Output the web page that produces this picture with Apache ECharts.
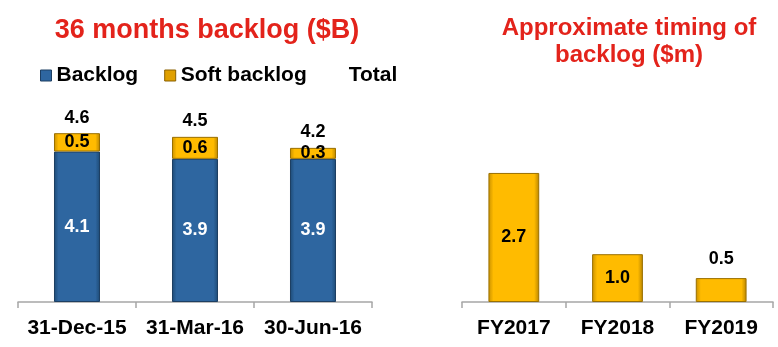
<!DOCTYPE html>
<html>
<head>
<meta charset="utf-8">
<script src="https://cdn.jsdelivr.net/npm/echarts@6/dist/echarts.min.js"></script>
<style>html,body{margin:0;padding:0;background:#fff;}#c{width:778px;height:347px;}</style>
</head>
<body>
<div id="c"></div>
<script>
const quarters = ['31-Dec-15', '31-Mar-16', '30-Jun-16'];
const backlog = [4.1, 3.9, 3.9];
const softBacklog = [0.5, 0.6, 0.3];
const totals = [4.6, 4.5, 4.2];
const years = ['FY2017', 'FY2018', 'FY2019'];
const timing = [2.7, 1.0, 0.5];

const FONT = '"Liberation Sans", Arial, sans-serif';
const blueGrad = new echarts.graphic.LinearGradient(0, 0, 1, 0, [
  {offset: 0, color: '#1d4a75'}, {offset: 0.1, color: '#2e66a0'},
  {offset: 0.9, color: '#2e66a0'}, {offset: 1, color: '#1d4a75'}]);
const yellowGrad = new echarts.graphic.LinearGradient(0, 0, 1, 0, [
  {offset: 0, color: '#c89000'}, {offset: 0.1, color: '#ffbb00'},
  {offset: 0.9, color: '#ffbb00'}, {offset: 1, color: '#b88400'}]);

const chart = echarts.init(document.getElementById('c'));
const catAxisStyle = {
  axisLine: {lineStyle: {color: '#a6a6a6', width: 1.5}},
  axisTick: {show: true, length: 6, lineStyle: {color: '#a6a6a6', width: 1.5}},
  axisLabel: {interval: 0, color: '#000', fontFamily: FONT, fontWeight: 'bold', fontSize: 21, margin: 16}
};
chart.setOption({
  animation: false,
  title: [
    {text: '36 months backlog ($B)', left: 202, top: 12, textAlign: 'center',
     textStyle: {color: '#e3231b', fontFamily: FONT, fontWeight: 'bold', fontSize: 27}},
    {text: 'Approximate timing of\nbacklog ($m)', left: 624, top: 10, textAlign: 'center',
     textStyle: {color: '#e3231b', fontFamily: FONT, fontWeight: 'bold', fontSize: 24, lineHeight: 27}}
  ],
  legend: {
    left: 35, top: 60, itemWidth: 11, itemHeight: 11, itemGap: 26,
    textStyle: {color: '#000', fontFamily: FONT, fontWeight: 'bold', fontSize: 21},
    data: [
      {name: 'Backlog', icon: 'rect', itemStyle: {color: '#2e66a0', borderColor: '#1d3f63', borderWidth: 1}},
      {name: 'Soft backlog', icon: 'rect', itemStyle: {color: '#e0a000', borderColor: '#8a6000', borderWidth: 1}},
      {name: 'Total', icon: 'rect', itemStyle: {color: 'rgba(0,0,0,0)', borderWidth: 0}}
    ]
  },
  grid: [
    {left: 18, width: 354, bottom: 45, top: 118.5},
    {left: 462, width: 311, bottom: 45, top: 134.7}
  ],
  xAxis: [
    Object.assign({type: 'category', gridIndex: 0, data: quarters}, catAxisStyle),
    Object.assign({type: 'category', gridIndex: 1, data: years}, catAxisStyle)
  ],
  yAxis: [
    {type: 'value', gridIndex: 0, min: 0, max: 5, show: false},
    {type: 'value', gridIndex: 1, min: 0, max: 3.5, show: false}
  ],
  series: [
    {name: 'Backlog', type: 'bar', stack: 'a', xAxisIndex: 0, yAxisIndex: 0, data: backlog,
     barWidth: '39%', itemStyle: {color: blueGrad, borderColor: '#1d3f63', borderWidth: 1},
     label: {show: true, position: 'inside', color: '#fff', fontFamily: FONT, fontWeight: 'bold', fontSize: 18, formatter: p => p.value.toFixed(1)}},
    {name: 'Soft backlog', type: 'bar', stack: 'a', xAxisIndex: 0, yAxisIndex: 0, data: softBacklog,
     barWidth: '39%', itemStyle: {color: yellowGrad, borderColor: '#9a7000', borderWidth: 1},
     label: {show: true, position: 'inside', color: '#000', fontFamily: FONT, fontWeight: 'bold', fontSize: 18, formatter: p => p.value.toFixed(1)}},
    {name: 'Total', type: 'scatter', xAxisIndex: 0, yAxisIndex: 0, data: totals, symbolSize: 1,
     itemStyle: {color: 'rgba(0,0,0,0)', opacity: 1},
     label: {show: true, position: 'top', distance: 6, color: '#000', fontFamily: FONT, fontWeight: 'bold', fontSize: 18, formatter: p => p.value.toFixed(1)}},
    {name: 'Timing', type: 'bar', xAxisIndex: 1, yAxisIndex: 1,
     data: timing.map(v => v < 0.8 ? {value: v, label: {position: 'top', distance: 10}} : v),
     barWidth: '49%', itemStyle: {color: yellowGrad, borderColor: '#9a7000', borderWidth: 1},
     label: {show: true, position: 'inside', color: '#000', fontFamily: FONT, fontWeight: 'bold', fontSize: 18, formatter: p => p.value.toFixed(1)}}
  ]
});
</script>
</body>
</html>
